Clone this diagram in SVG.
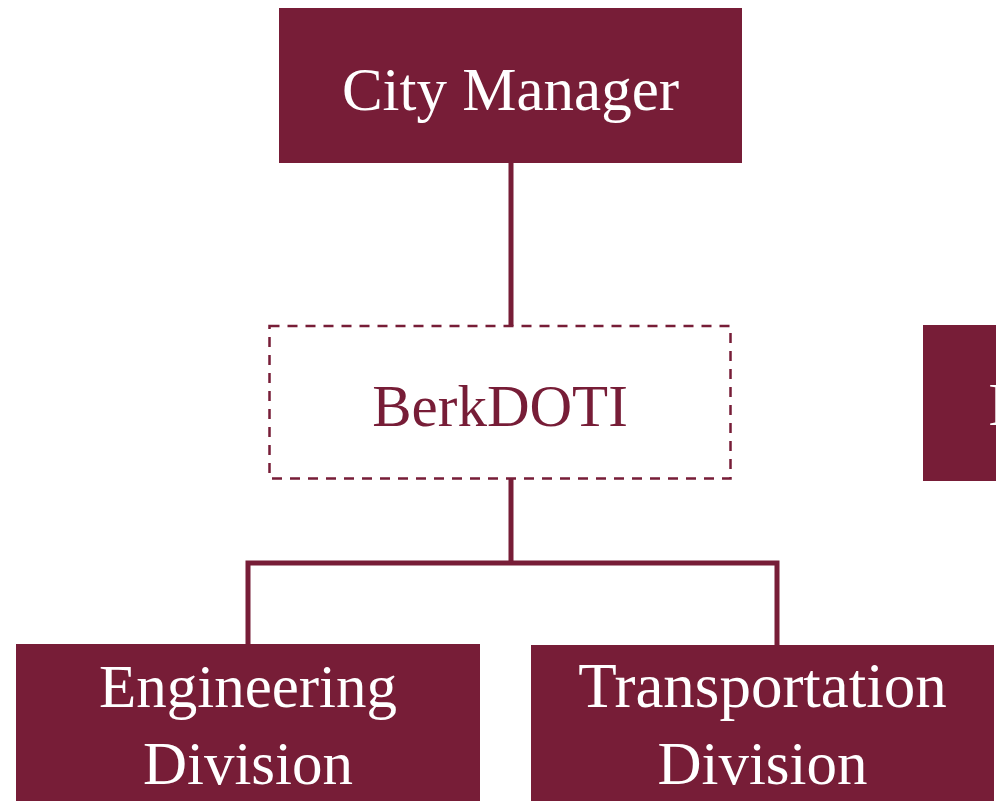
<svg xmlns="http://www.w3.org/2000/svg" width="996" height="804" viewBox="0 0 996 804">
<style>
.box{fill:#771d37}
.dash{fill:#ffffff;stroke:#771d37;stroke-width:2.5;stroke-dasharray:10,8}
.lbl{font-family:"Liberation Serif","Times New Roman",serif;font-size:61px;text-anchor:middle}
.w{fill:#ffffff}
.r{fill:#771d37}
.conn{fill:none;stroke:#771d37;stroke-width:5;stroke-linecap:butt}
</style>
<rect width="996" height="804" fill="#ffffff"/>
<g id="connectors">
<line class="conn" x1="511" y1="163" x2="511" y2="326"/>
<line class="conn" x1="511" y1="479" x2="511" y2="563"/>
<polyline class="conn" points="248,645 248,563 777,563 777,645"/>
</g>
<g id="city-manager">
<rect class="box" x="279" y="8" width="463" height="155"/>
<text class="lbl w" x="510.5" y="110">City Manager</text>
</g>
<g id="berkdoti">
<rect class="dash" x="269.5" y="326" width="461" height="152.5"/>
<text class="lbl r" x="500" y="426" style="font-size:59px">BerkDOTI</text>
</g>
<g id="right-node">
<rect class="box" x="923" y="325" width="80" height="156"/>
<text class="w" x="988" y="425" style="font-family:'Liberation Serif','Times New Roman',serif;font-size:61px">I</text>
</g>
<g id="engineering">
<rect class="box" x="16" y="644" width="464" height="157"/>
<text class="lbl w" x="248" y="707">Engineering</text>
<text class="lbl w" x="248" y="784">Division</text>
</g>
<g id="transportation">
<rect class="box" x="531" y="645" width="463" height="156"/>
<text class="lbl w" x="762.5" y="707" style="font-size:63px">Transportation</text>
<text class="lbl w" x="762.5" y="784">Division</text>
</g>
</svg>
